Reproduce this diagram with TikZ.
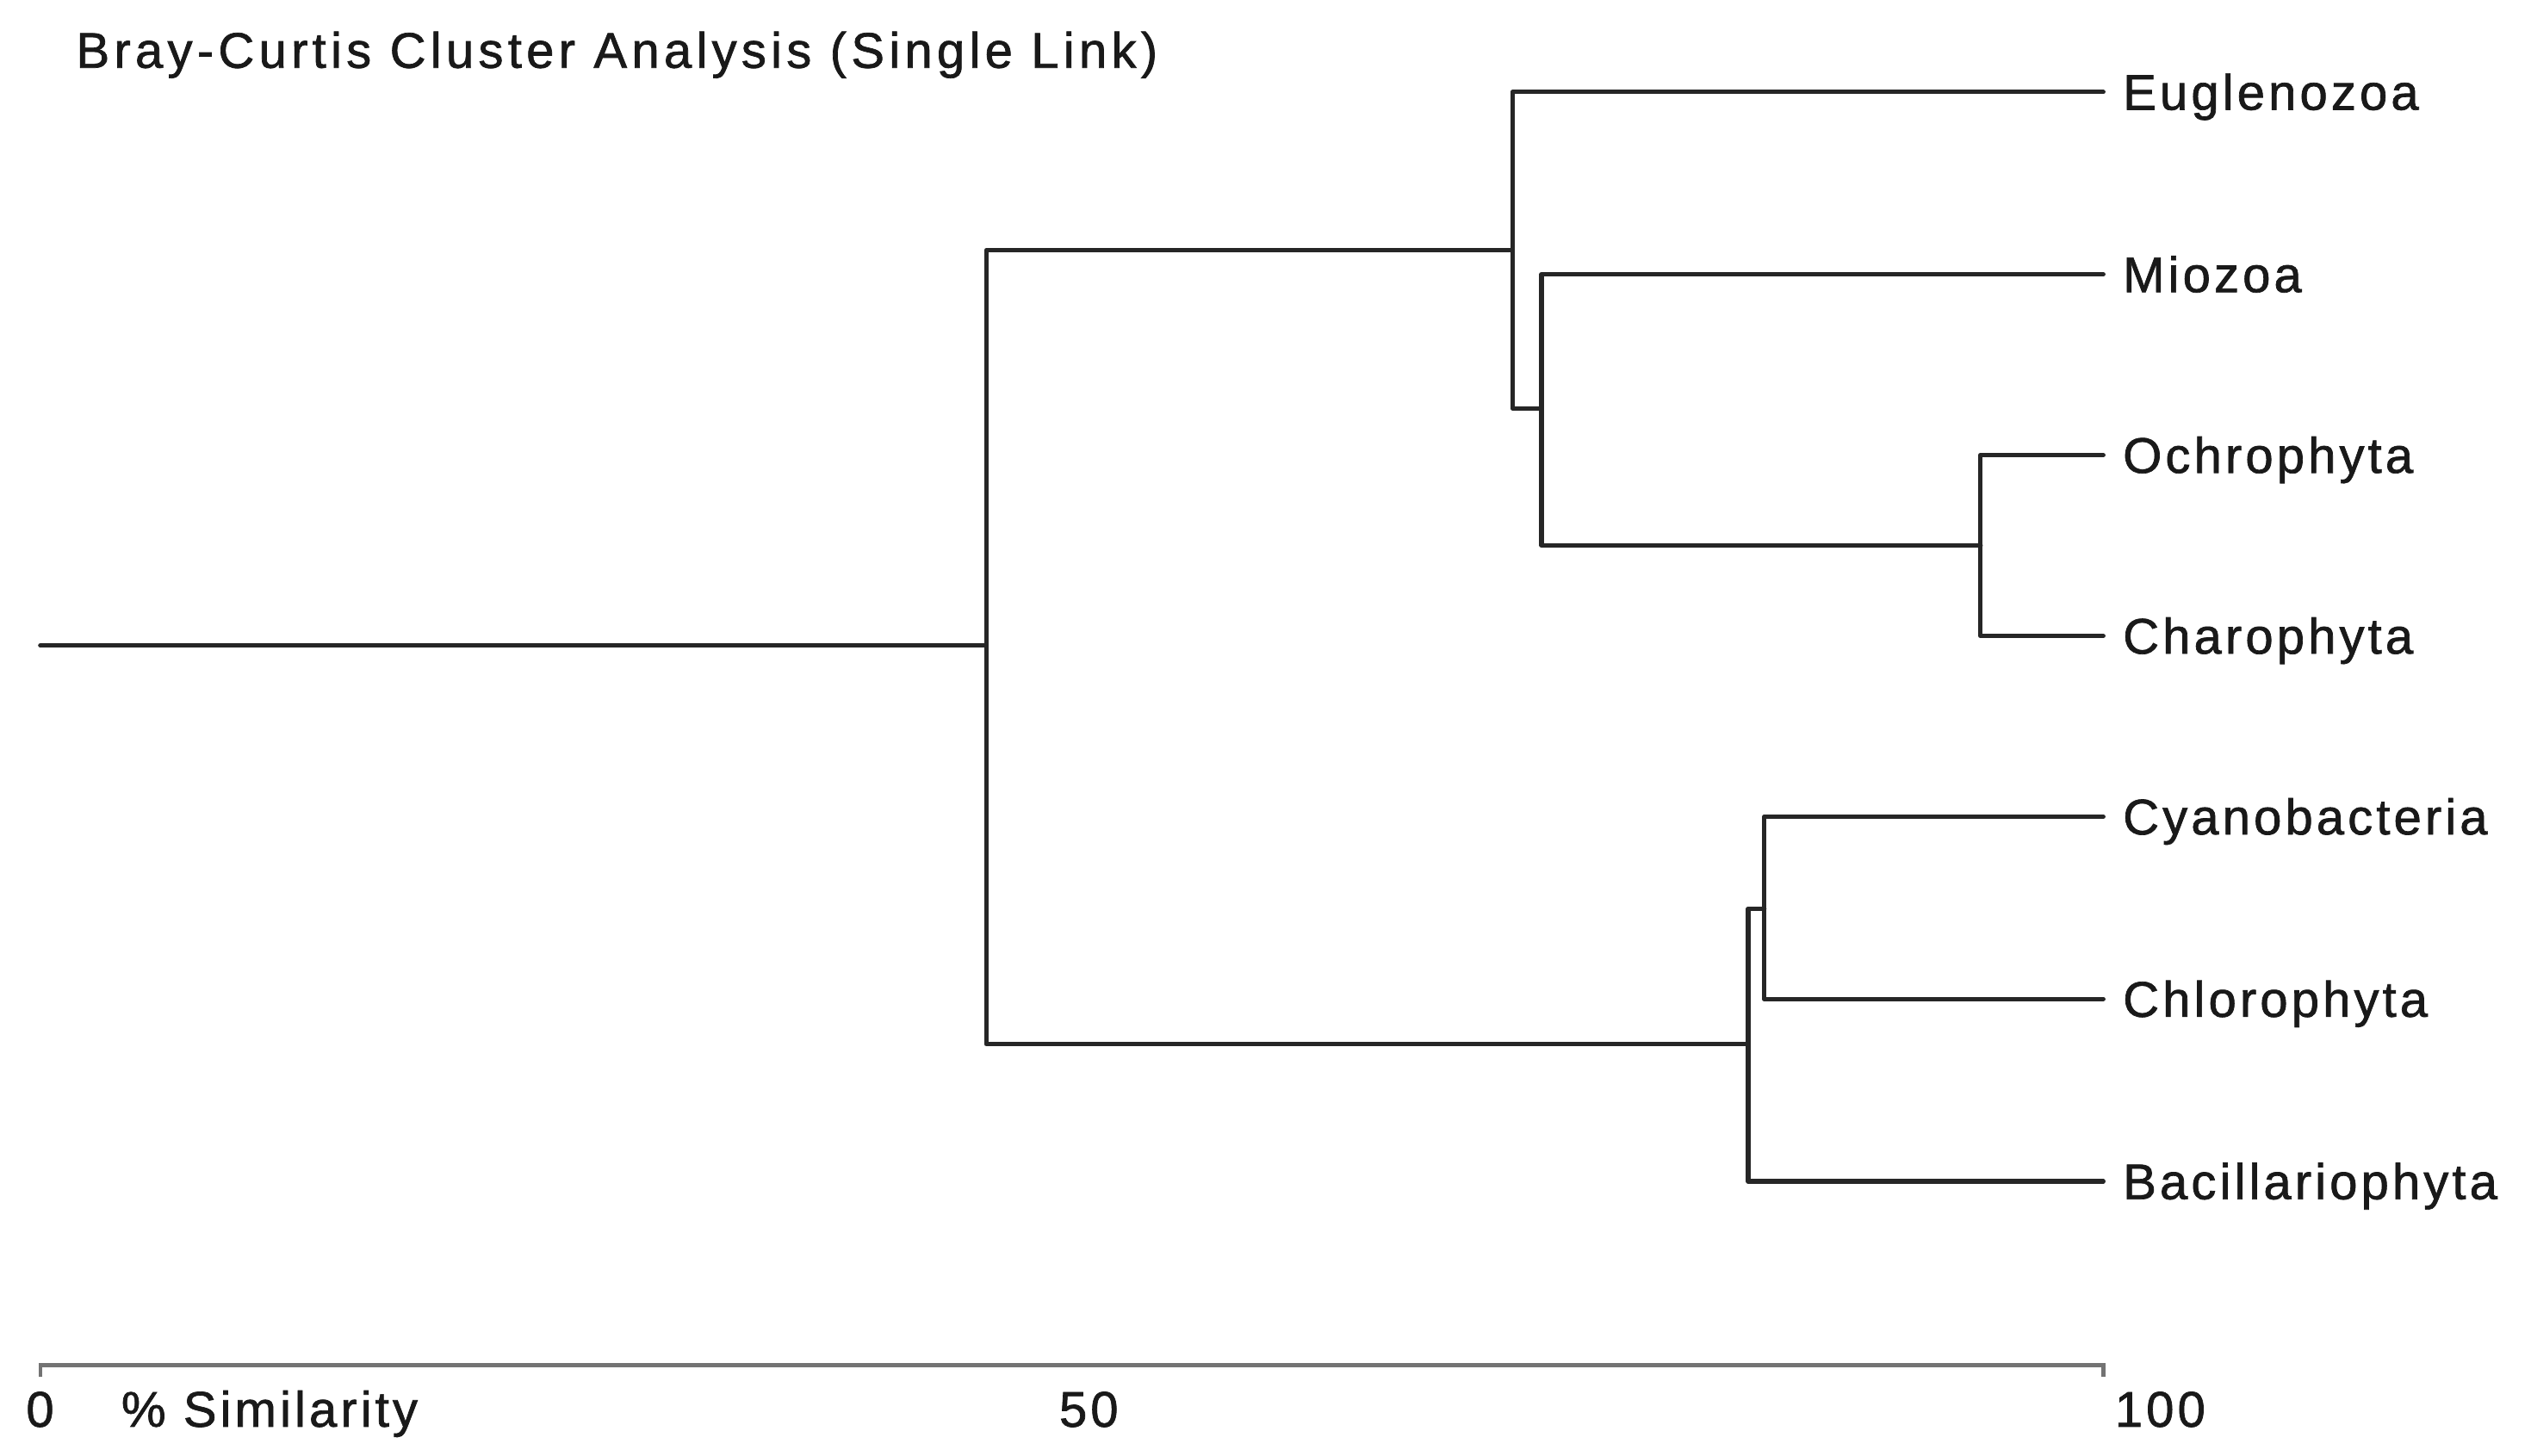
\documentclass[tikz,border=0pt]{standalone}
\usepackage{fontspec}
\setmainfont{Liberation Sans}[LetterSpace=7,FakeBold=1.2]
\newfontfamily\titlefont{Liberation Sans}[LetterSpace=9,FakeBold=1.2]
\begin{document}
\begin{tikzpicture}[x=1pt,y=-1pt,
  branch/.style={draw=black!85,line width=2.8pt,line cap=round,line join=round},
  axisline/.style={draw=black!55,line width=2.4pt},
  leaf/.style={anchor=base west,inner sep=0pt,xshift=12pt,yshift=-11pt,text=black!90,font=\fontsize{31}{31}\selectfont},
  lab/.style={anchor=base west,inner sep=0pt,text=black!90,font=\fontsize{31}{31}\selectfont}]
\useasboundingbox[fill=white] (0,0) rectangle (1568,902);
% title
\node[lab,font=\titlefont\fontsize{31}{31}\selectfont] (title) at (47,42) {Bray-Curtis Cluster Analysis (Single Link)};
% internal nodes
\coordinate (r0) at (25,400);
\coordinate (A) at (611,400);
\coordinate (B) at (937,155);
\coordinate (C) at (955,253);
\coordinate (D) at (1227,338);
\coordinate (E) at (1083,647);
\coordinate (F) at (1093,563);
% leaves
\coordinate (lEug) at (1303,57);
\coordinate (lMio) at (1303,170);
\coordinate (lOch) at (1303,282);
\coordinate (lCha) at (1303,394);
\coordinate (lCya) at (1303,506);
\coordinate (lChl) at (1303,619);
\coordinate (lBac) at (1303,732);
\node[leaf] (tEug) at (lEug) {Euglenozoa};
\node[leaf] (tMio) at (lMio) {Miozoa};
\node[leaf] (tOch) at (lOch) {Ochrophyta};
\node[leaf] (tCha) at (lCha) {Charophyta};
\node[leaf] (tCya) at (lCya) {Cyanobacteria};
\node[leaf] (tChl) at (lChl) {Chlorophyta};
\node[leaf] (tBac) at (lBac) {Bacillariophyta};
% branches
\draw[branch] (r0) -- (A);
\draw[branch] (A) |- (B);
\draw[branch] (A) |- (E);
\draw[branch] (lEug) -| (B) |- (C);
\draw[branch] (lMio) -| (C) |- (D);
\draw[branch] (lOch) -| (D) |- (lCha);
\draw[branch] (F) -| (E) |- (lBac);
\draw[branch] (lCya) -| (F) |- (lChl);
% axis
\coordinate (ax0) at (25,846);
\coordinate (ax1) at (1303,846);
\draw[axisline] ([yshift=-7pt]ax0) -- (ax0) -- (ax1) -- ([yshift=-7pt]ax1);
\node[lab] (l0) at (16,884) {0};
\node[lab] (lsim) at (75,884) {\% Similarity};
\node[lab] (l50) at (656,884) {50};
\node[lab] (l100) at (1310,884) {100};
\end{tikzpicture}
\end{document}
